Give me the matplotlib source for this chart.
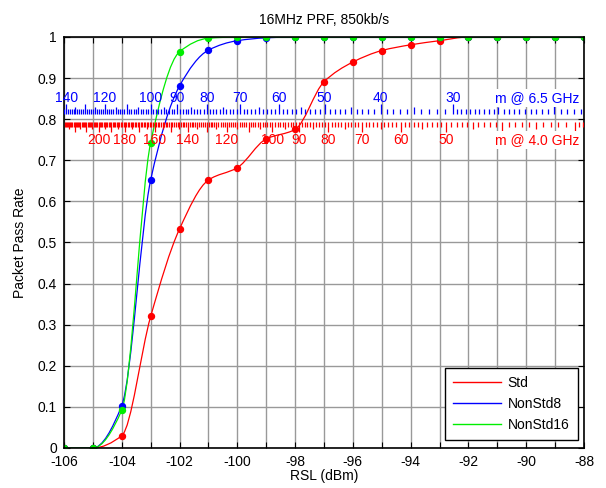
#!/usr/bin/python3
# Packet pass rate vs RSL, with distance scales for 6.5 GHz and 4.0 GHz
import numpy as np
import matplotlib
matplotlib.use('Agg')
from matplotlib import pyplot as plt
from matplotlib.path import Path
from matplotlib.patches import PathPatch
from matplotlib.lines import Line2D

# data
rsl = [-106, -105, -104, -103, -102, -101, -100, -99, -98, -97,
       -96, -95, -94, -93, -92, -91, -90, -89, -88]
std = [0, 0, 0.03, 0.32, 0.533, 0.652, 0.682, 0.752, 0.775, 0.891,
       0.939, 0.967, 0.981, 0.991, 1, 1, 1, 1, 1]
nonstd8 = [0, 0, 0.103, 0.652, 0.881, 0.968, 0.991, 0.998, 1, 1,
           1, 1, 1, 1, 1, 1, 1, 1, 1]
nonstd16 = [0, 0, 0.092, 0.743, 0.964, 0.997, 1, 1, 1, 1,
            1, 1, 1, 1, 1, 1, 1, 1, 1]

# distance scales (RSL = offset - 20 log10(d))
offset_65 = -63.0
offset_40 = offset_65 + 20 * np.log10(6.5 / 4.0)
labels_65 = [140, 120, 100, 90, 80, 70, 60, 50, 40, 30]
labels_40 = [200, 180, 160, 140, 120, 100, 90, 80, 70, 60, 50, 40]


def smooth_path(x, y):
    # monotone cubic (pchip style) drawn as bezier segments
    x = np.asarray(x, float)
    y = np.asarray(y, float)
    h = np.diff(x)
    d = np.diff(y) / h
    m = np.zeros_like(y)
    m[0] = d[0]
    m[-1] = d[-1]
    for k in range(1, len(y) - 1):
        if d[k - 1] * d[k] > 0:
            m[k] = 2.0 / (1.0 / d[k - 1] + 1.0 / d[k])
    verts = [(x[0], y[0])]
    codes = [Path.MOVETO]
    for k in range(len(h)):
        verts.append((x[k] + h[k] / 3, y[k] + m[k] * h[k] / 3))
        verts.append((x[k + 1] - h[k] / 3, y[k + 1] - m[k + 1] * h[k] / 3))
        verts.append((x[k + 1], y[k + 1]))
        codes += [Path.CURVE4] * 3
    return Path(verts, codes)


def draw_scale(ax, offset, labels, color, y0, sign, label_y, name):
    # 1 m steps, half metres below 30 m
    d = np.concatenate([np.arange(15, 30, 0.5), np.arange(30, 260)])
    x = offset - 20 * np.log10(d)
    keep = (x >= -106) & (x <= -88)
    length = np.where(d % 10 == 0, 0.024,
                      np.where(d % 5 == 0, 0.016, 0.011))
    ax.vlines(x[keep], y0, y0 + sign * length[keep], color=color,
              lw=0.9, zorder=3)
    for lab in labels:
        ax.text(offset - 20 * np.log10(lab), label_y, str(lab), ha='center',
                va='center', color=color, fontsize=10, zorder=4)
    ax.text(-88.15, label_y, name, ha='right', va='center', color=color,
            fontsize=10, zorder=5,
            bbox=dict(facecolor='white', edgecolor='none', pad=1.5))


def main():
    plt.rcParams['font.family'] = ['Liberation Sans', 'DejaVu Sans']

    fig = plt.figure(figsize=(6.06, 4.88), dpi=100)
    ax = fig.add_axes([0.1056, 0.082, 0.858, 0.8422])

    series = [(std, 'red', 'Std'), (nonstd8, 'blue', 'NonStd8'),
              (nonstd16, '#00ee00', 'NonStd16')]
    handles = []
    for vals, col, name in series:
        ax.add_patch(PathPatch(smooth_path(rsl, vals), facecolor='none',
                               edgecolor=col, lw=0.9, zorder=2))
        ax.plot(rsl, vals, 'o', color=col, markersize=4.3, zorder=2.5)
        handles.append(Line2D([], [], color=col, lw=1, label=name))

    # distance scales
    draw_scale(ax, offset_65, labels_65, 'blue', 0.813, 1, 0.852,
               'm @ 6.5 GHz')
    draw_scale(ax, offset_40, labels_40, 'red', 0.793, -1, 0.749,
               'm @ 4.0 GHz')

    ax.set_xlim(-106, -88)
    ax.set_ylim(0, 1)
    ax.set_xticks(rsl)
    ax.set_xticklabels([str(v) if v % 2 == 0 else '' for v in rsl])
    yt = np.round(np.arange(0, 1.01, 0.1), 1)
    ax.set_yticks(yt)
    ax.set_yticklabels(['0' if v == 0 else ('1' if v == 1 else '%g' % v)
                        for v in yt])
    ax.tick_params(direction='in', top=True, right=True, length=4,
                   width=0.8, labelsize=10)
    ax.tick_params(axis='x', pad=5)
    ax.tick_params(axis='y', pad=5)
    ax.grid(True, color='0.6', lw=1)
    ax.set_axisbelow(True)
    for sp in ax.spines.values():
        sp.set_linewidth(1.2)

    ax.set_xlabel("RSL (dBm)", fontsize=10, labelpad=0)
    ax.set_ylabel("Packet Pass Rate", fontsize=10, labelpad=8)
    ax.set_title("16MHz PRF, 850kb/s", fontsize=10, pad=9)

    leg = ax.legend(handles=handles, loc='lower right',
                    bbox_to_anchor=(0.988, 0.019), borderaxespad=0,
                    fancybox=False, framealpha=1, edgecolor='black',
                    fontsize=10, handlelength=3.4, labelspacing=0.5,
                    borderpad=0.6, handletextpad=0.5)
    leg.get_frame().set_linewidth(1)

    fig.savefig('out.png', dpi=100)


if __name__ == '__main__':
    main()
